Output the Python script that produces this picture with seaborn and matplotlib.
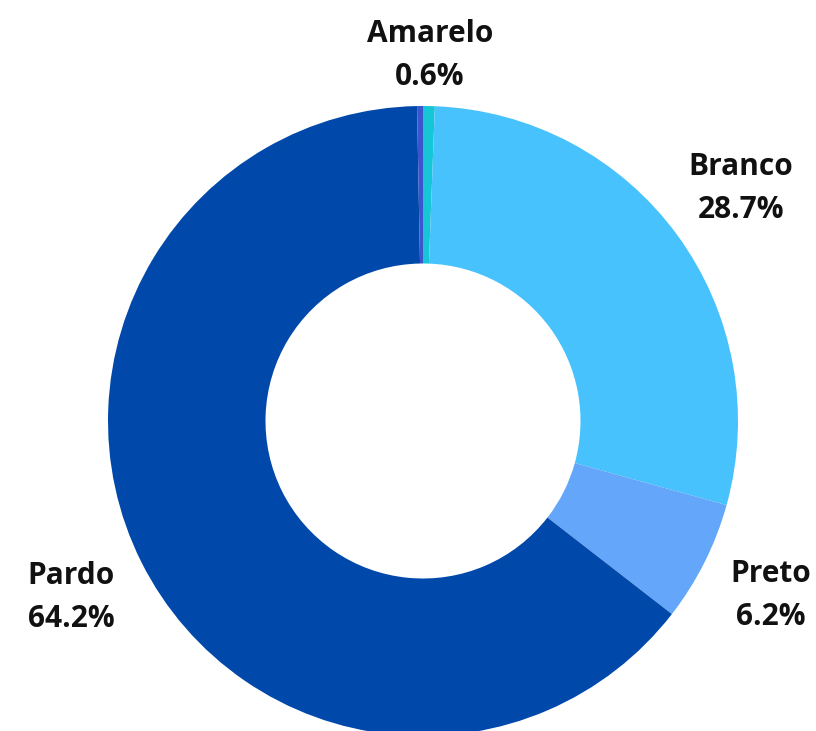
import matplotlib
matplotlib.use("Agg")
import matplotlib.pyplot as plt
import seaborn as sns
import numpy as np

sns.set_theme(style="white")
plt.rcParams['font.family'] = ['Open Sans', 'DejaVu Sans']

categories = ["Amarelo", "Branco", "Preto", "Pardo", "Indígena"]
values = [0.6, 28.7, 6.2, 64.2, 0.3]
labels = ["Amarelo\n0.6%", "Branco\n28.7%", "Preto\n6.2%", "Pardo\n64.2%", ""]
colors = ["#17C6D6", "#47C2FD", "#64A6F9", "#0049AA", "#3C55CF"]

W, H = 816, 731
cx, cy, R = 423, 421, 315

fig = plt.figure(figsize=(W / 100, H / 100), dpi=100)
ax = fig.add_axes([0, 0, 1, 1])
wedges, _ = ax.pie(values, colors=colors, startangle=90, counterclock=False,
                   radius=1.0, wedgeprops=dict(width=0.5, linewidth=0),
                   center=(0, 0))
ax.set_xlim(-cx / R, (W - cx) / R)
ax.set_ylim(-(H - cy) / R, cy / R)
ax.set_aspect('equal')
ax.axis('off')

dists = [1.16, 1.25, 1.235, 1.25, 1.2]
for w, lab, d in zip(wedges, labels, dists):
    if not lab:
        continue
    ang = np.deg2rad((w.theta1 + w.theta2) / 2)
    ax.text(d * np.cos(ang), d * np.sin(ang), lab, ha='center', va='center',
            fontsize=21.5, fontweight='bold', color='#111111', linespacing=1.55)

fig.savefig("out.png", dpi=100)
